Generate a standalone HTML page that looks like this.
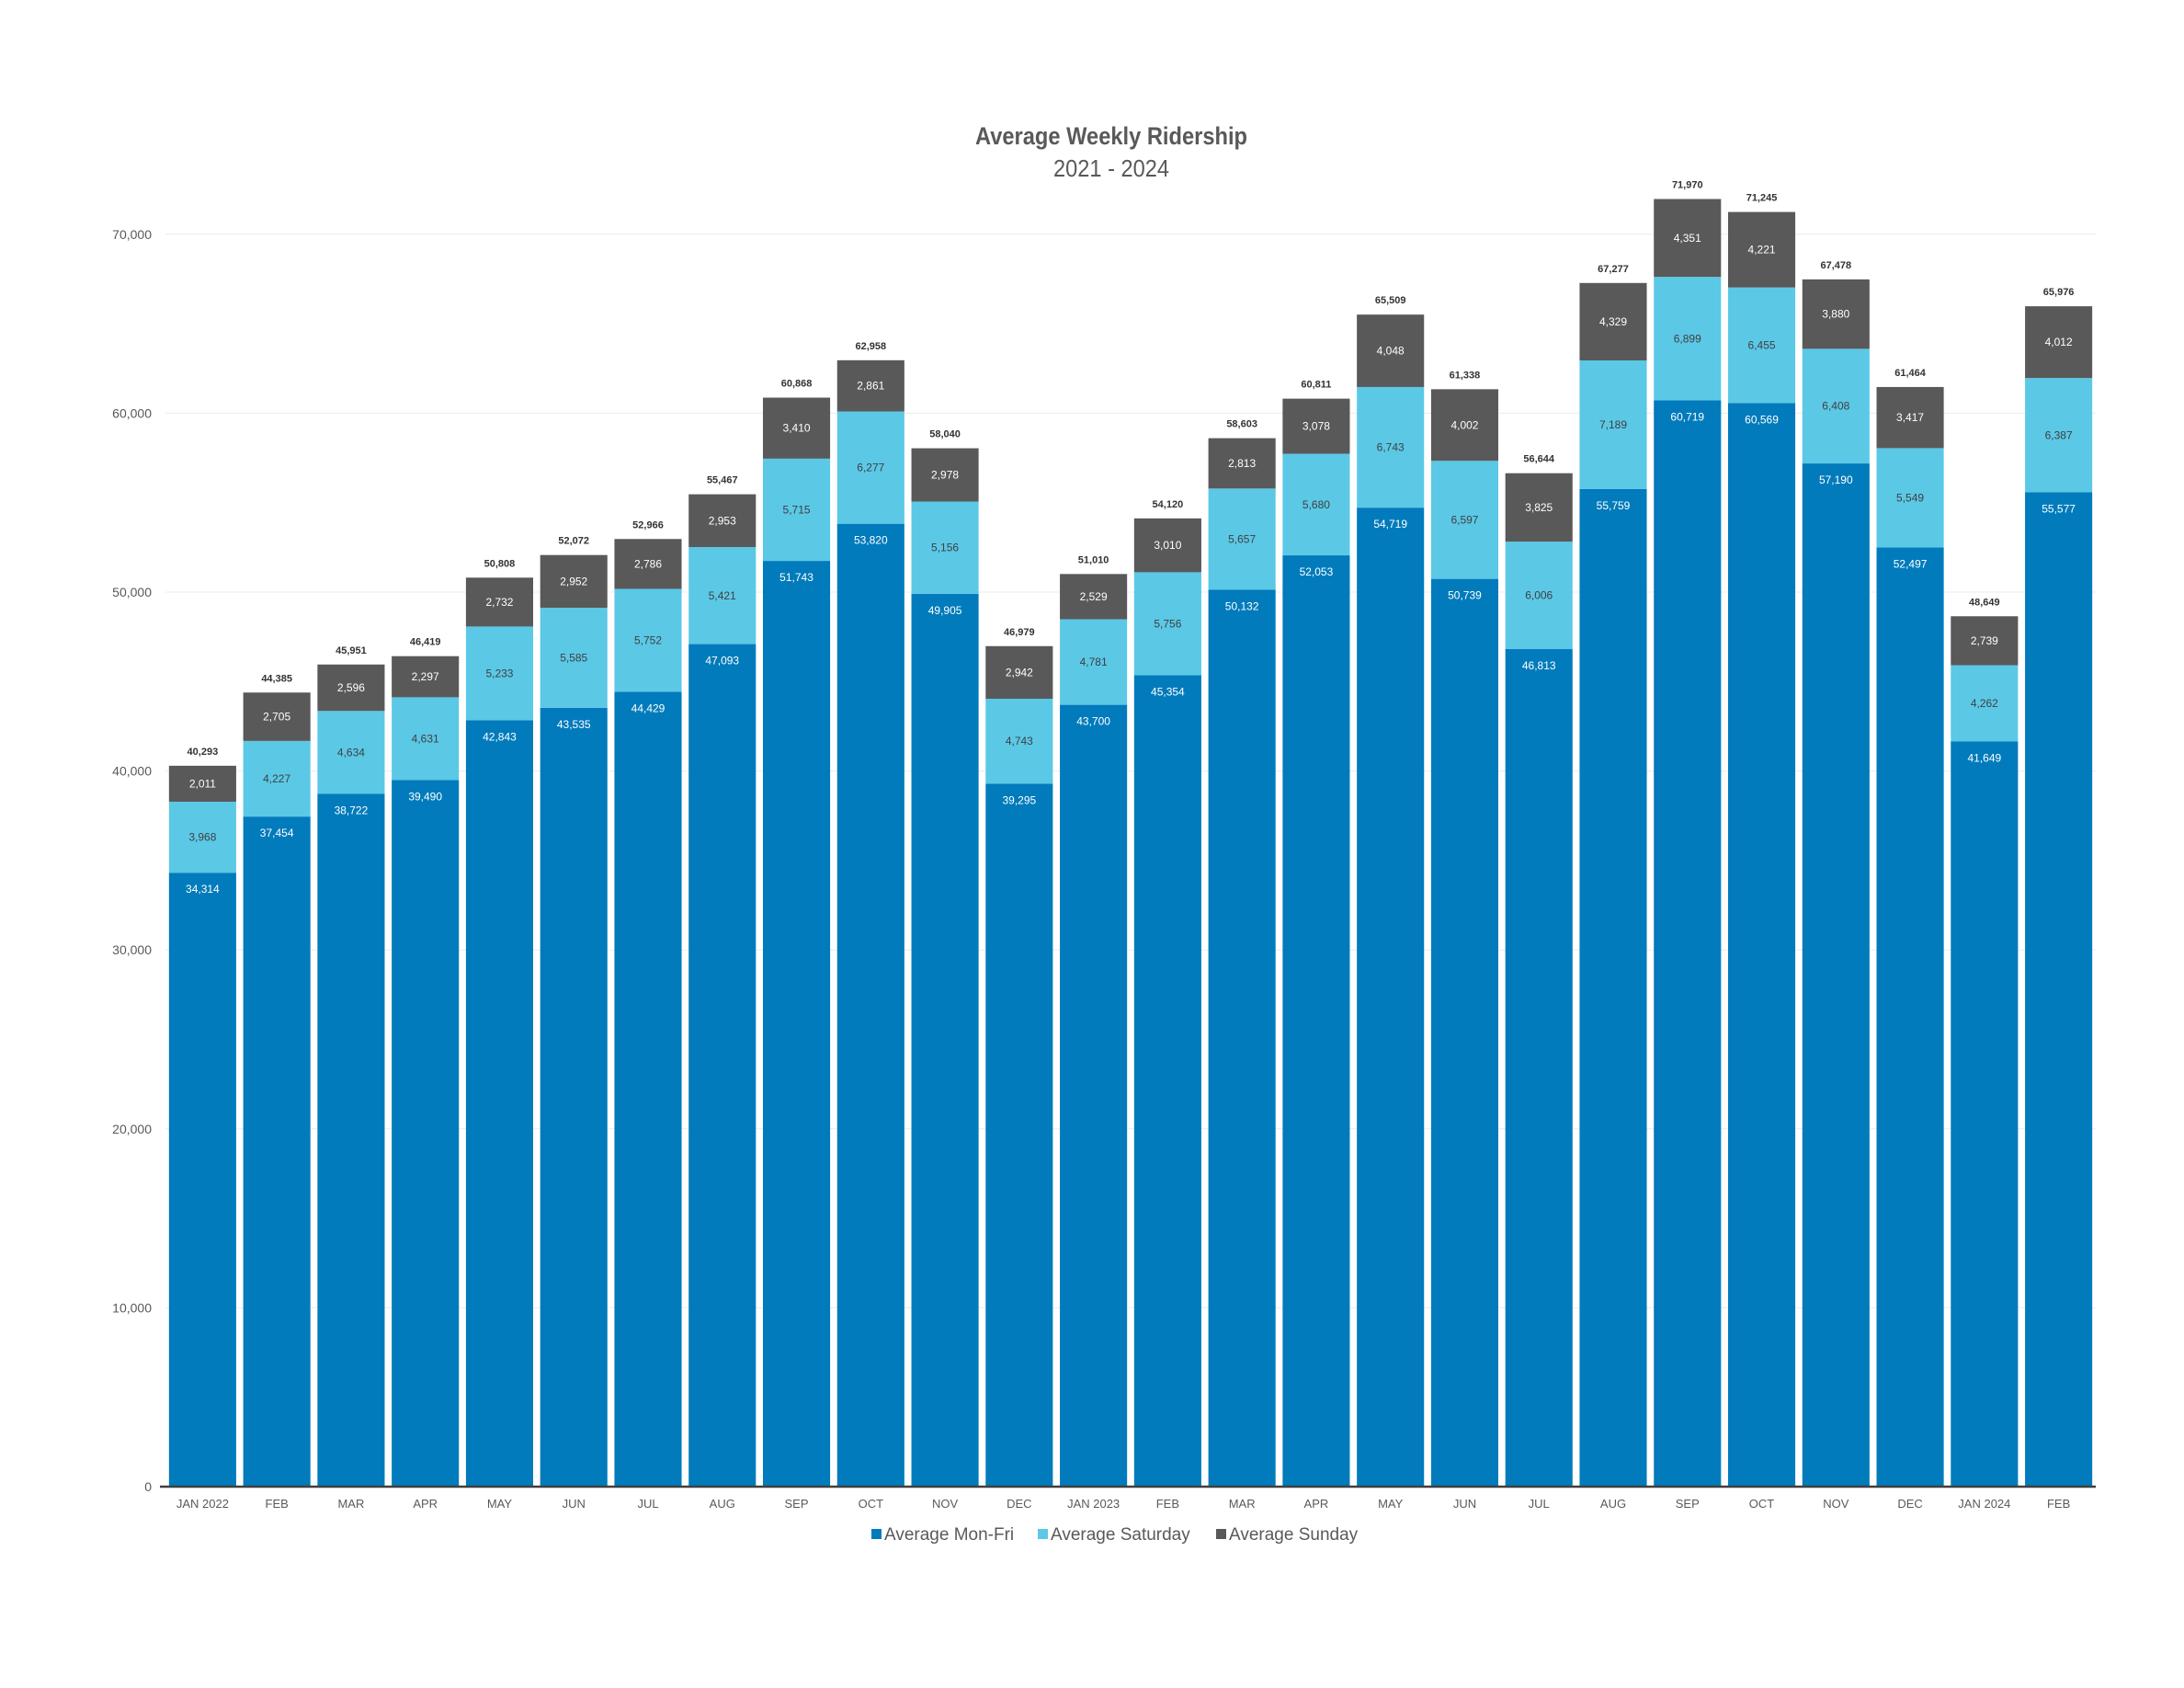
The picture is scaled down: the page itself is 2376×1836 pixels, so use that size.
<!DOCTYPE html>
<html><head><meta charset="utf-8"><style>
html,body{margin:0;padding:0;background:#fff;}
svg{display:block;}
text{font-family:"Liberation Sans Narrow","Liberation Sans",sans-serif;}
</style></head>
<body>
<svg id="chart" width="2376" height="1836" viewBox="0 0 2376 1836" xmlns="http://www.w3.org/2000/svg">
<text x="1209" y="157" text-anchor="middle" font-size="27" font-weight="bold" fill="#595959" textLength="296" lengthAdjust="spacingAndGlyphs">Average Weekly Ridership</text>
<text x="1209" y="192" text-anchor="middle" font-size="26" fill="#595959" textLength="126" lengthAdjust="spacingAndGlyphs">2021 - 2024</text>
<g id="grid"></g><g id="bars"></g><g id="labels"></g>
<g>
<rect x="948" y="1663" width="11" height="11" fill="#017bbb"/>
<text x="962" y="1675" font-size="19" fill="#595959">Average Mon-Fri</text>
<rect x="1129" y="1663" width="11" height="11" fill="#5bc8e6"/>
<text x="1143" y="1675" font-size="19" fill="#595959">Average Saturday</text>
<rect x="1323" y="1663" width="11" height="11" fill="#595959"/>
<text x="1337" y="1675" font-size="19" fill="#595959">Average Sunday</text>
</g>
</svg>
<script>
const categories=["JAN 2022","FEB","MAR","APR","MAY","JUN","JUL","AUG","SEP","OCT","NOV","DEC","JAN 2023","FEB","MAR","APR","MAY","JUN","JUL","AUG","SEP","OCT","NOV","DEC","JAN 2024","FEB"];
const monFri=[34314,37454,38722,39490,42843,43535,44429,47093,51743,53820,49905,39295,43700,45354,50132,52053,54719,50739,46813,55759,60719,60569,57190,52497,41649,55577];
const saturday=[3968,4227,4634,4631,5233,5585,5752,5421,5715,6277,5156,4743,4781,5756,5657,5680,6743,6597,6006,7189,6899,6455,6408,5549,4262,6387];
const sunday=[2011,2705,2596,2297,2732,2952,2786,2953,3410,2861,2978,2942,2529,3010,2813,3078,4048,4002,3825,4329,4351,4221,3880,3417,2739,4012];
const totals=[40293,44385,45951,46419,50808,52072,52966,55467,60868,62958,58040,46979,51010,54120,58603,60811,65509,61338,56644,67277,71970,71245,67478,61464,48649,65976];
const yTicks=[0,10000,20000,30000,40000,50000,60000,70000];

const NS="http://www.w3.org/2000/svg";
const X0=180,X1=2280,Y0=1617,PX10K=194.6;
const pitch=(X1-X0)/categories.length, bw=pitch*0.905;
const y=v=>Y0-v*PX10K/10000;
const xb=i=>X0+i*pitch+(pitch-bw)/2;
const fmt=v=>v.toLocaleString('en-US');
function mk(tag,attrs,parent,txt){const e=document.createElementNS(NS,tag);for(const k in attrs)e.setAttribute(k,attrs[k]);if(txt!==undefined)e.textContent=txt;parent.appendChild(e);return e;}
const grid=document.getElementById('grid'),bars=document.getElementById('bars'),labels=document.getElementById('labels');
yTicks.forEach(t=>{
  if(t>0){const l=mk('line',{x1:X0,x2:X1,y1:y(t),y2:y(t),stroke:'#ececec','stroke-width':1},grid);
  
  }
  const tx=mk('text',{x:165,y:y(t)+5,'text-anchor':'end','font-size':14,fill:'#595959'},grid,fmt(t));
  
  
});
categories.forEach((c,i)=>{
  const x=xb(i),cx=x+bw/2;
  const segs=[[0,monFri[i],'#017bbb'],[monFri[i],monFri[i]+saturday[i],'#5bc8e6'],[monFri[i]+saturday[i],monFri[i]+saturday[i]+sunday[i],'#595959']];
  const names=['bar-mon-fri','bar-saturday','bar-sunday'];
  segs.forEach((s,k)=>{
    const r=mk('rect',{x:x,y:y(s[1]),width:bw,height:y(s[0])-y(s[1]),fill:s[2]},bars);
    
    
  });
  const t1=mk('text',{x:cx,y:y(monFri[i])+22,'text-anchor':'middle','font-size':12,fill:'#fff'},labels,fmt(monFri[i]));
  
  
  const t2=mk('text',{x:cx,y:(y(monFri[i])+y(monFri[i]+saturday[i]))/2+4,'text-anchor':'middle','font-size':12,fill:'#404040'},labels,fmt(saturday[i]));
  
  
  const t3=mk('text',{x:cx,y:(y(monFri[i]+saturday[i])+y(totals[i]))/2+4,'text-anchor':'middle','font-size':12,fill:'#fff'},labels,fmt(sunday[i]));
  
  
  const t4=mk('text',{x:cx,y:y(totals[i])-12,'text-anchor':'middle','font-size':11,'font-weight':'bold',fill:'#333'},labels,fmt(totals[i]));
  
  
  const t5=mk('text',{x:cx,y:1640,'text-anchor':'middle','font-size':13,fill:'#595959'},labels,c);
  
  
});
const ax=mk('line',{x1:X0-6,x2:X1,y1:Y0,y2:Y0,stroke:'#404040','stroke-width':2.5},labels);


</script>
</body></html>
